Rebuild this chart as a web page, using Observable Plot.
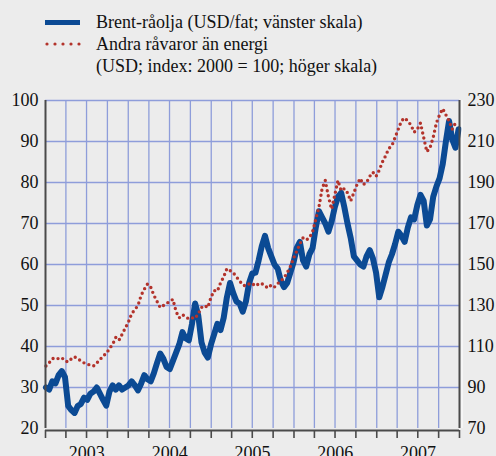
<!DOCTYPE html>
<html><head><meta charset="utf-8">
<script src="https://cdn.jsdelivr.net/npm/d3@7"></script>
<script src="https://cdn.jsdelivr.net/npm/@observablehq/plot@0.6"></script>
<style>
html,body{margin:0;padding:0;background:#ececec;}
body{width:496px;height:456px;overflow:hidden;font-family:"Liberation Serif","Times New Roman","DejaVu Serif",serif;}
#legend{position:relative;height:90px;width:496px;}
#legend .t{position:absolute;left:96px;font-size:18px;line-height:22px;color:#111;white-space:nowrap;}
#chart svg{display:block;overflow:visible;}
</style></head><body>
<div id="legend"></div>
<div id="chart"></div>
<script>
// ---- data ----
const dates = [
"2003-01-03","2003-01-17","2003-01-31","2003-02-14","2003-02-28","2003-03-14","2003-03-28","2003-04-11","2003-04-25","2003-05-09",
"2003-05-23","2003-06-06","2003-06-20","2003-07-04","2003-07-18","2003-08-01","2003-08-15","2003-08-29","2003-09-12","2003-09-26",
"2003-10-10","2003-10-24","2003-11-07","2003-11-21","2003-12-05","2003-12-19",
"2004-01-02","2004-01-16","2004-01-30","2004-02-13","2004-02-27","2004-03-12","2004-03-26","2004-04-09","2004-04-23","2004-05-07",
"2004-05-21","2004-06-04","2004-06-18","2004-07-02","2004-07-16","2004-07-30","2004-08-13","2004-08-27","2004-09-10","2004-09-24",
"2004-10-08","2004-10-22","2004-11-05","2004-11-19","2004-12-03","2004-12-17","2004-12-31",
"2005-01-14","2005-01-28","2005-02-11","2005-02-25","2005-03-11","2005-03-25","2005-04-08","2005-04-22","2005-05-06","2005-05-20",
"2005-06-03","2005-06-17","2005-07-01","2005-07-15","2005-07-29","2005-08-12","2005-08-26","2005-09-09","2005-09-23","2005-10-07",
"2005-10-21","2005-11-04","2005-11-18","2005-12-02","2005-12-16","2005-12-30",
"2006-01-13","2006-01-27","2006-02-10","2006-02-24","2006-03-10","2006-03-24","2006-04-07","2006-04-21","2006-05-05","2006-05-19",
"2006-06-02","2006-06-16","2006-06-30","2006-07-14","2006-07-28","2006-08-11","2006-08-25","2006-09-08","2006-09-22","2006-10-06",
"2006-10-20","2006-11-03","2006-11-17","2006-12-01","2006-12-15","2006-12-29",
"2007-01-12","2007-01-26","2007-02-09","2007-02-23","2007-03-09","2007-03-23","2007-04-06","2007-04-20","2007-05-04","2007-05-18",
"2007-06-01","2007-06-15","2007-06-29","2007-07-13","2007-07-27","2007-08-10","2007-08-24","2007-09-07","2007-09-21","2007-10-05",
"2007-10-19","2007-11-02","2007-11-16","2007-11-30","2007-12-14","2007-12-28"
];
// Brent, USD per barrel (left scale)
const brent = [
30.0,29.5,31.5,31.0,33.0,34.0,32.5,25.5,24.5,23.8,
25.5,26.0,27.5,27.0,28.5,29.0,30.0,28.5,27.0,25.6,
29.0,30.5,29.5,30.5,29.5,30.0,
30.5,31.5,30.5,29.3,31.0,33.0,32.0,31.5,33.5,36.0,
38.3,37.0,35.0,34.5,36.5,38.5,40.5,43.5,42.0,41.5,
45.5,50.5,47.5,41.0,38.5,37.3,40.5,
43.0,45.5,44.0,47.0,52.0,55.5,53.0,51.0,50.5,48.5,
51.0,55.5,57.8,58.0,61.0,64.5,67.0,64.0,62.0,60.0,
59.0,56.0,54.5,55.5,58.0,60.5,
64.0,65.5,61.0,59.5,62.5,64.0,69.0,73.0,71.5,70.0,
68.0,70.5,74.0,76.5,77.5,74.0,70.0,66.5,62.0,61.0,
60.0,59.5,62.0,63.5,61.5,58.0,
52.0,54.5,57.5,60.5,62.5,65.0,68.0,67.0,65.5,69.0,
71.5,71.0,74.5,77.0,75.5,69.5,71.0,76.5,79.0,81.0,
84.5,90.0,95.0,90.5,88.5,93.0
];
// Non-energy commodities, USD index 2000 = 100 (right scale)
const commodities = [
100.5,102,104,104.5,104,104.5,103,102.5,104,105,
104,103,102,101.5,100.8,100.5,102,103.5,105.5,106.5,
109,111,114.4,113,116,119,
122,126,128,130,135,138,140.5,139,135,132,
129,130,131,132,133,127,124,125.5,124.5,123.5,
124,123.7,126,129,130,129,134,
137.3,137,141,144,148,147,146,144,142,140,
139.5,140.5,139.8,141,140,140.7,139.5,138.5,140,139,
140.7,142,143.5,146,149,153,
156.5,160,163,162,163,166,172,178,187,191,
183,177,184,191,186,187,185,181,185,189,
192,189,190,193,195,193,
196,200,203,206.6,208,212,216,220,221.5,220,
218,214.5,216,219,212,205,207,212,219,223,
226,223,220,216,219,219
];
const leftTicks = [20, 30, 40, 50, 60, 70, 80, 90, 100];
const rightTicks = [70, 90, 110, 130, 150, 170, 190, 210, 230];
const yearLabels = ["2003", "2004", "2005", "2006", "2007"];
const seriesNames = ["Brent-råolja (USD/fat; vänster skala)", "Andra råvaror än energi", "(USD; index: 2000 = 100; höger skala)"];

// ---- styles ----
const BLUE = "#0b4a94", RED = "#b3332b", GRID = "#8e9dda", AXIS = "#4a4a4a";
const FONT = "'Liberation Serif','Times New Roman','DejaVu Serif',serif";

// ---- legend ----
const lg = document.getElementById("legend");
lg.innerHTML = `
 <div style="position:absolute;left:45px;top:20px;width:35px;height:5px;background:${BLUE}"></div>
 <svg style="position:absolute;left:43px;top:40px" width="42" height="8">
  ${[0,1,2,3,4].map(i => `<circle cx="${4 + i*8}" cy="4" r="1.6" fill="${RED}"/>`).join("")}
 </svg>
 <div class="t" style="top:10.5px">${seriesNames[0]}</div>
 <div class="t" style="top:32.5px">${seriesNames[1]}</div>
 <div class="t" style="top:54.5px">${seriesNames[2]}</div>`;

// ---- chart ----
const rows = dates.map((d, i) => ({date: new Date(d), brent: brent[i], comm: commodities[i]}));
// right axis relation: right = k * left + m
const k = (rightTicks[rightTicks.length-1] - rightTicks[0]) / (leftTicks[leftTicks.length-1] - leftTicks[0]);
const m = rightTicks[0] - k * leftTicks[0];
const xStart = new Date(Date.UTC(+yearLabels[0], 0, 1));
const xEnd = new Date(Date.UTC(+yearLabels[yearLabels.length-1] + 1, 0, 1));
const quarters = d3.utcMonth.every(3).range(xStart, new Date(+xEnd + 1));
const innerQuarters = quarters.slice(1, -1);

const chart = Plot.plot({
  width: 496, height: 366,
  marginLeft: 45, marginRight: 37, marginTop: 10, marginBottom: 28,
  style: {background: "transparent", fontFamily: FONT, fontSize: "18px", color: "#111", overflow: "visible"},
  x: {type: "utc", domain: [xStart, xEnd], axis: null, label: null},
  y: {domain: [leftTicks[0], leftTicks[leftTicks.length-1]], axis: null, label: null},
  marks: [
    Plot.ruleX(innerQuarters, {stroke: GRID, strokeWidth: 1.3}),
    Plot.ruleY(leftTicks.slice(1), {stroke: GRID, strokeWidth: 1.3}),
    Plot.line(rows, {x: "date", y: "brent", stroke: BLUE, strokeWidth: 6, strokeLinejoin: "round", strokeLinecap: "round"}),
    Plot.line(rows, {x: "date", y: d => (d.comm - m) / k, stroke: RED, strokeWidth: 3.4, strokeDasharray: "0 5.2", strokeLinecap: "round"}),
    Plot.ruleX([xStart], {stroke: AXIS, strokeWidth: 2}),
    Plot.ruleX([xEnd], {stroke: AXIS, strokeWidth: 2}),
    Plot.ruleX([xEnd], {stroke: "#ffffff", strokeWidth: 1, dx: 2.5}),
    Plot.ruleY([leftTicks[0]], {stroke: AXIS, strokeWidth: 2, dy: 2}),
    Plot.axisX(quarters, {tickSize: 8, tickFormat: () => "", label: null, stroke: AXIS, strokeWidth: 1.6, dy: 2}),
    Plot.axisY(leftTicks, {anchor: "left", label: null, tickSize: 0, tickPadding: 7, fontSize: 18, fontFamily: FONT}),
    Plot.axisY(leftTicks, {anchor: "right", label: null, tickSize: 0, tickPadding: 8, fontSize: 18, fontFamily: FONT, tickFormat: d => String(rightTicks[leftTicks.indexOf(d)])}),
    Plot.text(yearLabels, {x: d => new Date(Date.UTC(+d, 6, 2)), text: d => d, frameAnchor: "bottom", lineAnchor: "top", dy: 18, fontSize: 18, fontFamily: FONT, fill: "#111"})
  ]
});
document.getElementById("chart").appendChild(chart);
</script>
</body></html>
